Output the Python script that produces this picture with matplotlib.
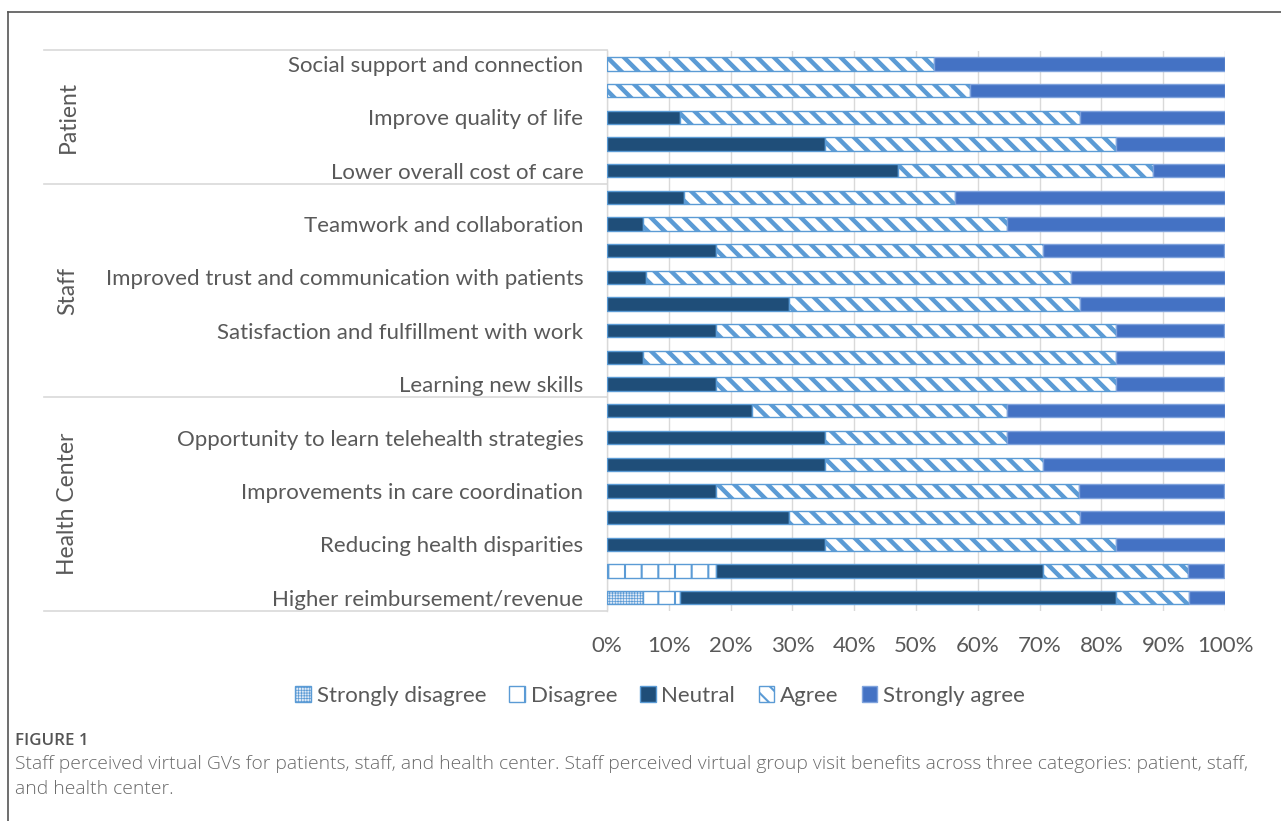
import matplotlib
matplotlib.use("Agg")
import matplotlib.pyplot as plt
from matplotlib.patches import Patch
from matplotlib.lines import Line2D
import numpy as np

# ---------------- data ----------------
labels = [
    "Social support and connection", "", "Improve quality of life", "",
    "Lower overall cost of care", "", "Teamwork and collaboration", "",
    "Improved trust and communication with patients", "",
    "Satisfaction and fulfillment with work", "", "Learning new skills", "",
    "Opportunity to learn telehealth strategies", "",
    "Improvements in care coordination", "", "Reducing health disparities", "",
    "Higher reimbursement/revenue",
]
strongly_disagree = [0, 0, 0, 0, 0, 0, 0, 0, 0, 0, 0, 0, 0, 0, 0, 0, 0, 0, 0, 0, 5.9]
disagree = [0, 0, 0, 0, 0, 0, 0, 0, 0, 0, 0, 0, 0, 0, 0, 0, 0, 0, 0, 17.6, 5.9]
neutral = [0, 0, 11.8, 35.3, 47.1, 12.5, 5.9, 17.6, 6.3, 29.4, 17.6, 5.9, 17.6,
           23.5, 35.3, 35.3, 17.6, 29.4, 35.3, 52.9, 70.6]
agree = [52.9, 58.8, 64.7, 47.1, 41.2, 43.8, 58.8, 52.9, 68.7, 47.1, 64.7, 76.5,
         64.7, 41.2, 29.4, 35.3, 58.8, 47.1, 47.1, 23.5, 11.8]
strongly_agree = [47.1, 41.2, 23.5, 17.6, 11.8, 43.7, 35.3, 29.4, 25.0, 23.5, 17.6,
                  17.6, 17.6, 35.3, 35.3, 29.4, 23.5, 23.5, 17.6, 5.9, 5.9]
series_names = ["Strongly disagree", "Disagree", "Neutral", "Agree", "Strongly agree"]
groups = ["Patient", "Staff", "Health Center"]
group_bounds = [(0, 4), (5, 12), (13, 20)]
xticks = [0, 10, 20, 30, 40, 50, 60, 70, 80, 90, 100]

# ---------------- style ----------------
FONT = ["Lato", "DejaVu Sans"]
plt.rcParams["font.family"] = FONT
TXT = "#595959"
LIGHT = "#5B9BD5"
FS = 16

styles = [
    dict(facecolor="#DCE8F6", edgecolor=LIGHT, hatch="++++++", hlw=0.5),
    dict(facecolor="white", edgecolor=LIGHT, hatch="|", hlw=1.5),
    dict(facecolor="#1F4E79", edgecolor=LIGHT, hatch=None, hlw=1.0),
    dict(facecolor="white", edgecolor=LIGHT, hatch="\\\\", hlw=3.2),
    dict(facecolor="#4472C4", edgecolor="#7FA3DD", hatch=None, hlw=1.0),
]


def with_hatch_lw(artist, lw):
    artist._hatch_linewidth = lw
    if hasattr(artist, "set_hatch_linewidth"):
        try:
            artist.set_hatch_linewidth(lw)
        except Exception:
            pass
    orig = artist.draw

    def draw(renderer, *args, **kwargs):
        with plt.rc_context({"hatch.linewidth": lw}):
            return orig(renderer, *args, **kwargs)

    artist.draw = draw


W, H = 1281, 821
fig = plt.figure(figsize=(W / 100, H / 100), dpi=100)
ax_l, ax_r, ax_t, ax_b = 607, 1225, 50.5, 611
ax = fig.add_axes([ax_l / W, 1 - ax_b / H, (ax_r - ax_l) / W, (ax_b - ax_t) / H])

data = [strongly_disagree, disagree, neutral, agree, strongly_agree]
y = np.arange(len(labels))
left = np.zeros(len(labels))
for name, vals, st in zip(series_names, data, styles):
    vals = np.array(vals, dtype=float)
    with plt.rc_context({"hatch.linewidth": st["hlw"]}):
        bars = ax.barh(y, vals, left=left, height=0.5, facecolor=st["facecolor"],
                       edgecolor=st["edgecolor"], linewidth=1.0, hatch=st["hatch"],
                       label=name, zorder=3)
    for b in bars:
        with_hatch_lw(b, st["hlw"])
    left += vals

ax.set_xlim(0, 100)
ax.set_ylim(len(labels) - 0.5, -0.5)
ax.set_xticks(xticks)
ax.set_xticklabels([f"{t}%" for t in xticks])
ax.set_yticks(y)
ax.set_yticklabels(labels)
ax.tick_params(axis="both", length=0, colors=TXT, labelsize=FS)
ax.tick_params(axis="x", pad=18)
ax.tick_params(axis="y", pad=17)
ax.xaxis.grid(True, color="#D9D9D9", linewidth=1.0, zorder=0)
ax.set_axisbelow(True)
for s in ["top", "right", "bottom"]:
    ax.spines[s].set_visible(False)
ax.spines["left"].set_color("#D9D9D9")
ax.spines["left"].set_linewidth(1.0)

# group separators and labels
trans = matplotlib.transforms.blended_transform_factory(ax.transAxes, ax.transData)
x_line = (44 - ax_l) / (ax_r - ax_l)
bounds = sorted(set([g[0] - 0.5 for g in group_bounds] + [g[1] + 0.5 for g in group_bounds]))
for b in bounds:
    ax.add_line(Line2D([x_line, 0], [b, b], transform=trans, color="#D9D9D9",
                       linewidth=1.2, clip_on=False))
x_grp = (68 - ax_l) / (ax_r - ax_l)
for g, (a, b) in zip(groups, group_bounds):
    ax.text(x_grp, (a + b) / 2, g, transform=trans, rotation=90, ha="center",
            va="center", fontsize=FS + 0.5, color=TXT)

# legend
handles = []
for name, st in zip(series_names, styles):
    with plt.rc_context({"hatch.linewidth": min(st["hlw"], 1.5)}):
        p = Patch(facecolor=st["facecolor"], edgecolor=st["edgecolor"], hatch=st["hatch"],
                  linewidth=1.0, label=name)
    handles.append(p)
leg = fig.legend(handles=handles, loc="center", bbox_to_anchor=(660 / W, 1 - 696 / H),
                 ncol=5, frameon=False, fontsize=FS, handlelength=0.7, handleheight=0.7,
                 handletextpad=0.25, columnspacing=1.05, labelcolor=TXT)
for hp, st in zip(leg.get_patches(), styles):
    with_hatch_lw(hp, min(st["hlw"], 1.5))

# caption
CAP_FONT = ["Open Sans", "DejaVu Sans"]
fig.text(15 / W, 1 - 741 / H, "FIGURE 1", fontsize=12.2, color="#555555",
         family=CAP_FONT, fontweight="semibold", va="center")
fig.text(15 / W, 1 - 764 / H,
         "Staff perceived virtual GVs for patients, staff, and health center. Staff perceived "
         "virtual group visit benefits across three categories: patient, staff,",
         fontsize=13.9, color="#6a6a6a", family=CAP_FONT, fontweight="light", va="center")
fig.text(15 / W, 1 - 789 / H, "and health center.", fontsize=13.9, color="#6a6a6a",
         family=CAP_FONT, fontweight="light", va="center")

# outer frame (left and top edges)
fig.add_artist(Line2D([8 / W, 8 / W], [0, 1 - 12 / H], transform=fig.transFigure,
                      color="#555555", linewidth=1.2))
fig.add_artist(Line2D([8 / W, 1], [1 - 12 / H, 1 - 12 / H], transform=fig.transFigure,
                      color="#555555", linewidth=1.2))

fig.savefig("out.png", dpi=100)
